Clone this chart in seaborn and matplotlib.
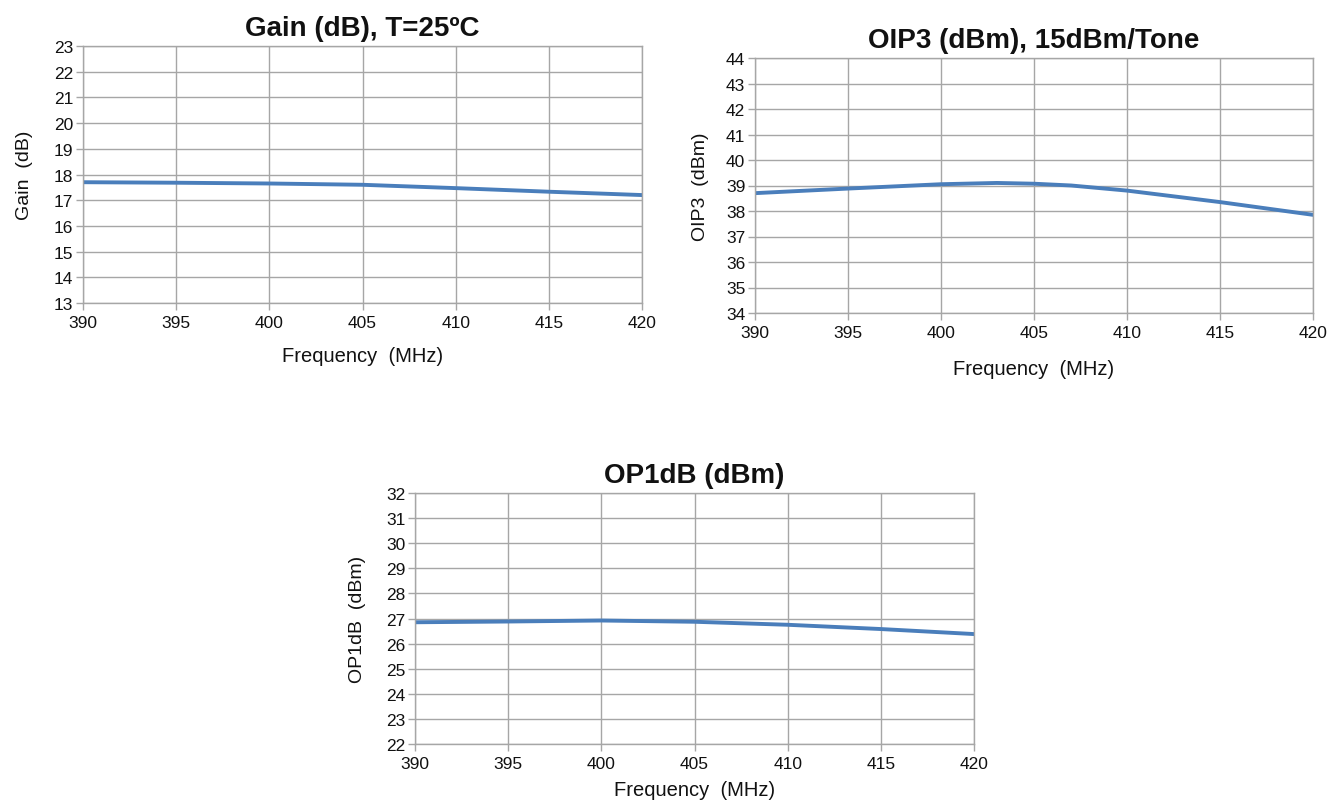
import matplotlib
matplotlib.use("Agg")
import matplotlib.pyplot as plt
import seaborn as sns
import pandas as pd

freq = [390, 395, 400, 405, 410, 415, 420]
gain_db = [17.70, 17.68, 17.65, 17.60, 17.47, 17.33, 17.20]
oip3_freq = [390, 395, 400, 403, 405, 407, 410, 415, 420]
oip3_dbm = [38.70, 38.88, 39.05, 39.10, 39.07, 39.00, 38.80, 38.35, 37.85]
op1db_dbm = [26.85, 26.88, 26.92, 26.87, 26.75, 26.58, 26.38]
x_ticks = [390, 395, 400, 405, 410, 415, 420]

sns.set_theme(style="white")
plt.rcParams['font.family'] = ['Liberation Sans', 'DejaVu Sans']

W, H = 1330, 803
fig = plt.figure(figsize=(W / 100, H / 100), dpi=100)

line_color = "#4a7ebb"
grid_color = "#a6a6a6"


def make_ax(left, right, top, bottom):
    return fig.add_axes([left / W, 1 - bottom / H, (right - left) / W, (bottom - top) / H])


def style(ax, x, y, ylim, title, ylabel, xpad, ypad):
    df = pd.DataFrame({"x": x, "y": y})
    sns.lineplot(data=df, x="x", y="y", ax=ax, color=line_color, linewidth=2.8)
    ax.set_xlim(390, 420)
    ax.set_ylim(*ylim)
    ax.set_xticks(x_ticks)
    ax.set_yticks(range(ylim[0], ylim[1] + 1))
    ax.grid(True, color=grid_color, linewidth=1.0)
    ax.set_axisbelow(True)
    for s in ax.spines.values():
        s.set_color(grid_color)
        s.set_linewidth(1.0)
    ax.tick_params(axis='both', which='both', bottom=True, left=True, length=5, width=1.0,
                   color=grid_color, labelsize=12.5, labelcolor="#111111", pad=2, direction='out')
    ax.tick_params(axis='x', pad=4)
    ax.set_title(title, fontsize=20, fontweight='bold', pad=8, color="#111111")
    ax.set_xlabel("Frequency  (MHz)", fontsize=14.5, labelpad=xpad, color="#111111")
    ax.set_ylabel(ylabel, fontsize=14, labelpad=ypad, color="#111111")


ax1 = make_ax(83, 642, 47, 304)
style(ax1, freq, gain_db, (13, 23), "Gain (dB), T=25ºC", "Gain  (dB)", 11, 15)

ax2 = make_ax(755, 1313, 59, 314)
style(ax2, oip3_freq, oip3_dbm, (34, 44), "OIP3 (dBm), 15dBm/Tone", "OIP3  (dBm)", 13, 12)

ax3 = make_ax(415, 974, 494, 745)
style(ax3, freq, op1db_dbm, (22, 32), "OP1dB (dBm)", "OP1dB  (dBm)", 6, 14)

fig.savefig("out.png", dpi=100, facecolor="white")
